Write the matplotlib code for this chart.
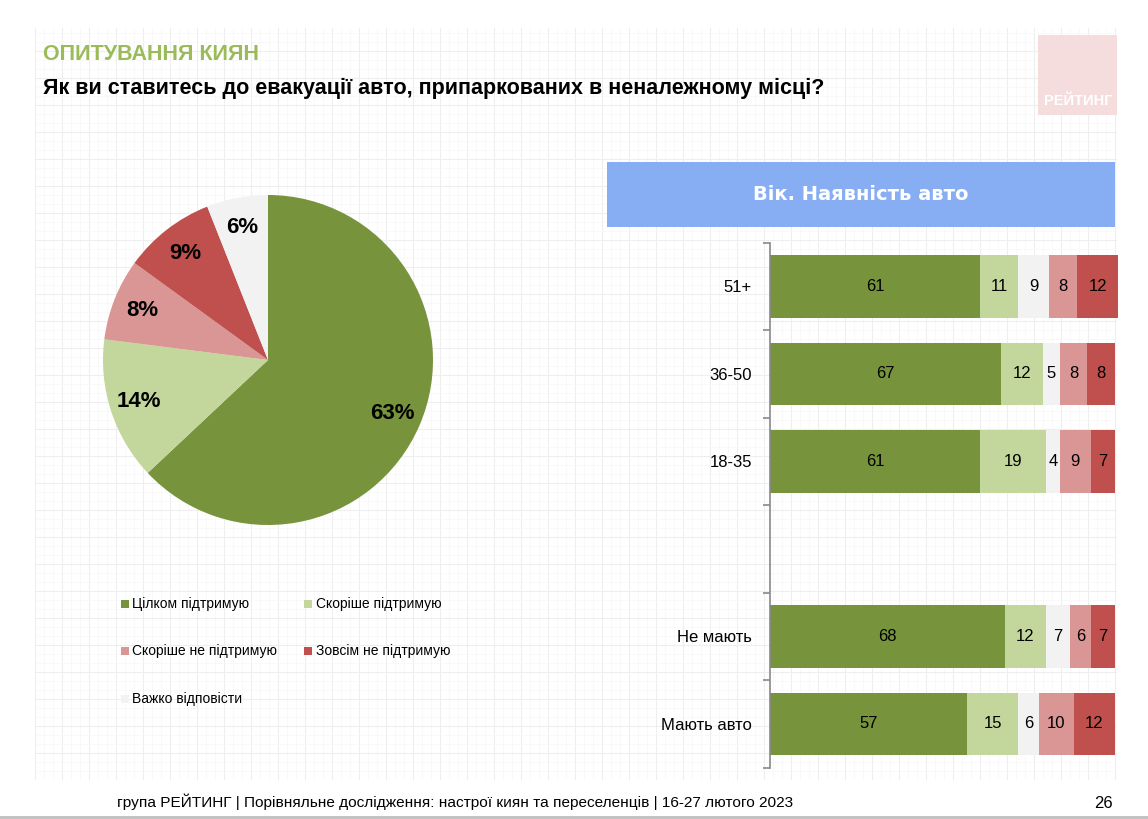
import numpy as np
import matplotlib.pyplot as plt
from matplotlib.patches import Rectangle

plt.rcParams['font.family'] = ['Liberation Sans Narrow', 'Liberation Sans', 'DejaVu Sans']

# data
answers = ['Цілком підтримую', 'Скоріше підтримую', 'Скоріше не підтримую',
           'Зовсім не підтримую', 'Важко відповісти']
colors = {'Цілком підтримую': '#77933C', 'Скоріше підтримую': '#C3D69B',
          'Скоріше не підтримую': '#D99694', 'Зовсім не підтримую': '#C0504D',
          'Важко відповісти': '#F2F2F2'}

pie_order = ['Цілком підтримую', 'Скоріше підтримую', 'Скоріше не підтримую',
             'Зовсім не підтримую', 'Важко відповісти']
pie_values = [63, 14, 8, 9, 6]

groups = ['51+', '36-50', '18-35', '', 'Не мають', 'Мають авто']
bar_order = ['Цілком підтримую', 'Скоріше підтримую', 'Важко відповісти',
             'Скоріше не підтримую', 'Зовсім не підтримую']
fully = [61, 67, 61, 0, 68, 57]
rather = [11, 12, 19, 0, 12, 15]
hard = [9, 5, 4, 0, 7, 6]
rather_not = [8, 8, 9, 0, 6, 10]
not_at_all = [12, 8, 7, 0, 7, 12]
bar_values = [fully, rather, hard, rather_not, not_at_all]

W, H = 1148, 819
fig = plt.figure(figsize=(W / 100, H / 100), dpi=100)
fig.patch.set_facecolor('white')

# faint slide grid in the background
bg = fig.add_axes([35 / W, 1 - 780 / H, (1117 - 35) / W, (780 - 28) / H], zorder=-5)
bg.set_xlim(0, 1082)
bg.set_ylim(0, 752)
bg.set_xticks(np.arange(0, 1082, 27))
bg.set_yticks(np.arange(0, 752, 27))
bg.set_xticks(np.arange(0, 1082, 9), minor=True)
bg.set_yticks(np.arange(0, 752, 9), minor=True)
bg.grid(True, which='major', color='#EEEEEE', lw=0.8)
bg.grid(True, which='minor', color='#F7F7F7', lw=0.5)
bg.tick_params(which='both', length=0, labelbottom=False, labelleft=False)
for s in bg.spines.values():
    s.set_visible(False)

# titles
fig.text(43 / W, 1 - 55 / H, 'ОПИТУВАННЯ КИЯН', color='#9BBB59', fontsize=15.5,
         fontweight='bold', va='center', ha='left')
fig.text(43 / W, 1 - 88 / H, 'Як ви ставитесь до евакуації авто, припаркованих в неналежному місці?',
         color='black', fontsize=15.5, fontweight='bold', va='center', ha='left')

# logo
fig.patches.append(Rectangle((1038 / W, 1 - 115 / H), 79 / W, 80 / H,
                             transform=fig.transFigure, facecolor='#F4DDDC', edgecolor='none'))
fig.text(1078 / W, 1 - 101 / H, 'РЕЙТИНГ', color='white', fontsize=10.5, fontweight='bold',
         ha='center', va='center', family=['Liberation Sans', 'DejaVu Sans'])

# pie chart
cx, cy, r = 268, 360, 165
axp = fig.add_axes([(cx - r) / W, 1 - (cy + r) / H, 2 * r / W, 2 * r / H])
wedges, texts, autotexts = axp.pie(pie_values, colors=[colors[a] for a in pie_order],
                                   startangle=90, counterclock=False,
                                   autopct=lambda p: f'{p:.0f}%', pctdistance=0.82,
                                   wedgeprops=dict(edgecolor='none'))
for t in autotexts:
    t.set_fontsize(16)
    t.set_fontweight('bold')
    t.set_color('black')
axp.set_xlim(-1, 1)
axp.set_ylim(-1, 1)
axp.set_aspect('equal')

# legend
leg_items = [('Цілком підтримую', 124.5, 604), ('Скоріше підтримую', 308, 604),
             ('Скоріше не підтримую', 124.5, 651), ('Зовсім не підтримую', 308, 651),
             ('Важко відповісти', 124.5, 699)]
for name, lx, ly in leg_items:
    fig.patches.append(Rectangle(((lx - 4) / W, 1 - (ly + 4) / H), 8 / W, 8 / H,
                                 transform=fig.transFigure, facecolor=colors[name],
                                 edgecolor='none'))
    fig.text((lx + 7.5) / W, 1 - ly / H, name, fontsize=10, va='center', ha='left')

# header box
fig.patches.append(Rectangle((607 / W, 1 - 227 / H), (1115 - 607) / W, 65 / H,
                             transform=fig.transFigure, facecolor='#87AEF3', edgecolor='none'))
fig.text(861 / W, 1 - 194 / H, 'Вік. Наявність авто', color='white', fontsize=14,
         fontweight='heavy', ha='center', va='center', family=['DejaVu Sans'])

# stacked bars
axb = fig.add_axes([770 / W, 1 - 767.7 / H, 345 / W, 525 / H])
y = np.arange(len(groups))
left = np.zeros(len(groups))
for name, vals in zip(bar_order, bar_values):
    vals = np.array(vals, dtype=float)
    axb.barh(y, vals, left=left, height=0.71, color=colors[name], edgecolor='none',
             clip_on=False)
    for yi, (l, v) in enumerate(zip(left, vals)):
        if v > 0:
            axb.text(l + v / 2, yi, f'{v:.0f}', ha='center', va='center', fontsize=12,
                     color='black')
    left += vals

axb.set_xlim(0, 100)
axb.set_ylim(len(groups) - 0.5, -0.5)
axb.set_xticks([])
axb.set_yticks(y)
axb.set_yticklabels(groups, fontsize=12)
axb.set_yticks(np.arange(len(groups) + 1) - 0.5, minor=True)
axb.tick_params(axis='y', which='major', length=0, pad=13)
axb.tick_params(axis='y', which='minor', length=5, color='#898989', width=1.2)
axb.set_facecolor('none')
for s in ['top', 'right', 'bottom']:
    axb.spines[s].set_visible(False)
axb.spines['left'].set_color('#898989')
axb.spines['left'].set_linewidth(1.2)

# footer
fig.text(117 / W, 1 - 802 / H,
         'група РЕЙТИНГ | Порівняльне дослідження: настрої киян та переселенців | 16-27 лютого 2023',
         fontsize=11.1, ha='left', va='center')
fig.text(1113 / W, 1 - 804 / H, '26', fontsize=12, ha='right', va='center')
fig.add_artist(plt.Line2D([0, 1], [1 - 817 / H, 1 - 817 / H], transform=fig.transFigure,
                          color='#BFBFBF', lw=2))

fig.savefig('out.png', dpi=100)
